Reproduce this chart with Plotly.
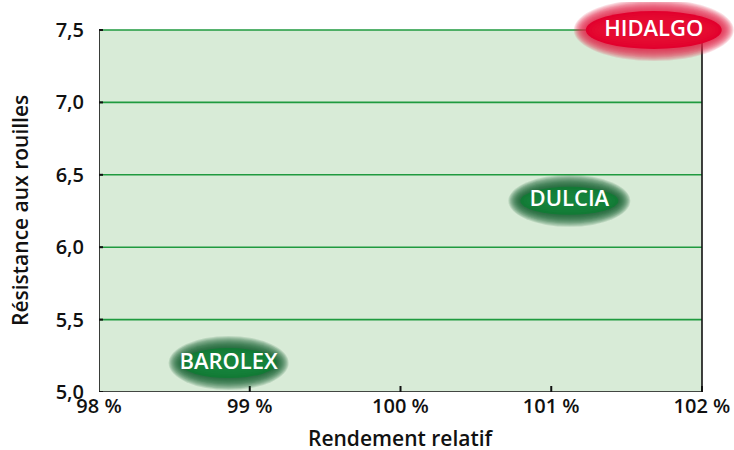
import plotly.graph_objects as go

# ---- data ----
varieties = ["BAROLEX", "DULCIA", "HIDALGO"]
rendement = [98.86, 101.12, 101.68]      # % relative yield
resistance = [5.2, 6.32, 7.5]            # rust resistance score
colors = ["green", "green", "red"]

x_ticks = [98, 99, 100, 101, 102]
y_ticks = [5.0, 5.5, 6.0, 6.5, 7.0, 7.5]
x_title = "Rendement relatif"
y_title = "Résistance aux rouilles"

# ---- styling ----
FONT = "Open Sans"
BG = "#d8ebd7"
GRID = "#1f9a3f"
AXIS = "#111111"
PAL = {
    "green": {"rim": "#0b5e28", "core": "#127a35", "hi": "#1a8a40"},
    "red": {"rim": "#e3204a", "core": "#e2002d", "hi": "#e8163a"},
}
ELL = {"BAROLEX": (120, 54), "DULCIA": (122, 52), "HIDALGO": (160, 62)}

X0, X1 = x_ticks[0], x_ticks[-1]
Y0, Y1 = y_ticks[0], y_ticks[-1]

shapes = []
shapes.append(dict(type="rect", xref="x", yref="y", x0=X0, x1=X1, y0=Y0, y1=Y1,
                   fillcolor=BG, line=dict(width=0), layer="below"))
for yv in y_ticks[1:]:
    shapes.append(dict(type="line", xref="x", yref="y", x0=X0, x1=X1, y0=yv, y1=yv,
                       line=dict(color=GRID, width=1.6), layer="below"))
shapes.append(dict(type="line", xref="x", yref="y", x0=X0, x1=X0, y0=Y0, y1=Y1,
                   line=dict(color=AXIS, width=1.6), layer="below"))
shapes.append(dict(type="line", xref="x", yref="y", x0=X0, x1=X1, y0=Y0, y1=Y0,
                   line=dict(color=AXIS, width=1.6), layer="below"))
shapes.append(dict(type="line", xref="x", yref="y", x0=X1, x1=X1, y0=Y0, y1=Y1,
                   line=dict(color=AXIS, width=1.6), layer="below"))
# crossing ticks
for xv in x_ticks[1:]:
    shapes.append(dict(type="line", xref="x", yref="y", xsizemode="pixel", ysizemode="pixel",
                       xanchor=xv, yanchor=Y0, x0=0, x1=0, y0=-5, y1=6,
                       line=dict(color=AXIS, width=2), layer="below"))
for yv in y_ticks:
    shapes.append(dict(type="line", xref="x", yref="y", xsizemode="pixel", ysizemode="pixel",
                       xanchor=X0, yanchor=yv, x0=-6, x1=4, y0=0, y1=0,
                       line=dict(color=AXIS, width=2), layer="below"))

# blurred ellipses
for name, xv, yv, c in zip(varieties, rendement, resistance, colors):
    W, H = ELL[name]
    pal = PAL[c]
    n = 12
    for d in range(n):
        w, h = W - 2 * d, H - 2 * d
        shapes.append(dict(type="circle", xref="x", yref="y", xsizemode="pixel", ysizemode="pixel",
                           xanchor=xv, yanchor=yv, x0=-w / 2, x1=w / 2, y0=-h / 2, y1=h / 2,
                           fillcolor=pal["rim"], opacity=0.14, line=dict(width=0), layer="below"))
    w, h = W - 2 * n, H - 2 * n
    shapes.append(dict(type="circle", xref="x", yref="y", xsizemode="pixel", ysizemode="pixel",
                       xanchor=xv, yanchor=yv, x0=-w / 2, x1=w / 2, y0=-h / 2, y1=h / 2,
                       fillcolor=pal["core"], opacity=1, line=dict(width=0), layer="below"))
    for d in range(1, 5):
        w, h = W - 2 * n - 6 * d, H - 2 * n - 4 * d
        shapes.append(dict(type="circle", xref="x", yref="y", xsizemode="pixel", ysizemode="pixel",
                           xanchor=xv, yanchor=yv, x0=-w / 2, x1=w / 2, y0=-h / 2, y1=h / 2,
                           fillcolor=pal["hi"], opacity=0.18, line=dict(width=0), layer="below"))

fig = go.Figure()
fig.add_trace(go.Scatter(
    x=rendement, y=resistance, mode="text", text=varieties,
    textposition="middle center", cliponaxis=False, hoverinfo="skip",
    textfont=dict(family=FONT, size=22, color="white", weight=600),
))

# pixel calibration: 150.75 px per %, 144.8 px per unit of resistance
PX_X = 150.75
PX_Y = 144.8
L, B, T = 99, 58, 2
W_FIG, H_FIG = 734, 450
x_hi = X0 + (W_FIG - L) / PX_X
y_hi = Y0 + (H_FIG - B - T) / PX_Y

annotations = [
    dict(text=x_title, xref="x", yref="paper", x=(X0 + X1) / 2, y=0, yshift=-46,
         xanchor="center", yanchor="middle", showarrow=False,
         font=dict(family=FONT, size=21, weight=600, color="#111111")),
    dict(text=y_title, xref="paper", yref="y", x=0, y=(Y0 + Y1) / 2, xshift=-79,
         xanchor="center", yanchor="middle", textangle=-90, showarrow=False,
         font=dict(family=FONT, size=21, weight=600, color="#111111")),
]

fig.update_layout(
    width=W_FIG, height=H_FIG,
    margin=dict(l=L, r=0, t=T, b=B, autoexpand=False),
    paper_bgcolor="white", plot_bgcolor="white",
    separators=", ",
    showlegend=False,
    shapes=shapes,
    annotations=annotations,
    font=dict(family=FONT, color="#111111"),
    xaxis=dict(
        range=[X0, x_hi], tickvals=x_ticks, ticktext=[f"{v} %" for v in x_ticks],
        showgrid=False, zeroline=False, showline=False, automargin=False,
        ticks="",
        tickfont=dict(family=FONT, size=20, weight=600),
    ),
    yaxis=dict(
        range=[Y0, y_hi], tickvals=y_ticks, tickformat=".1f",
        showgrid=False, zeroline=False, showline=False, automargin=False,
        ticks="", ticklabelstandoff=14,
        tickfont=dict(family=FONT, size=20, weight=600),
    ),
)

fig.write_html("out.html", config={"displayModeBar": False},
               post_script="document.body.style.margin='0';document.body.style.overflow='hidden';")
